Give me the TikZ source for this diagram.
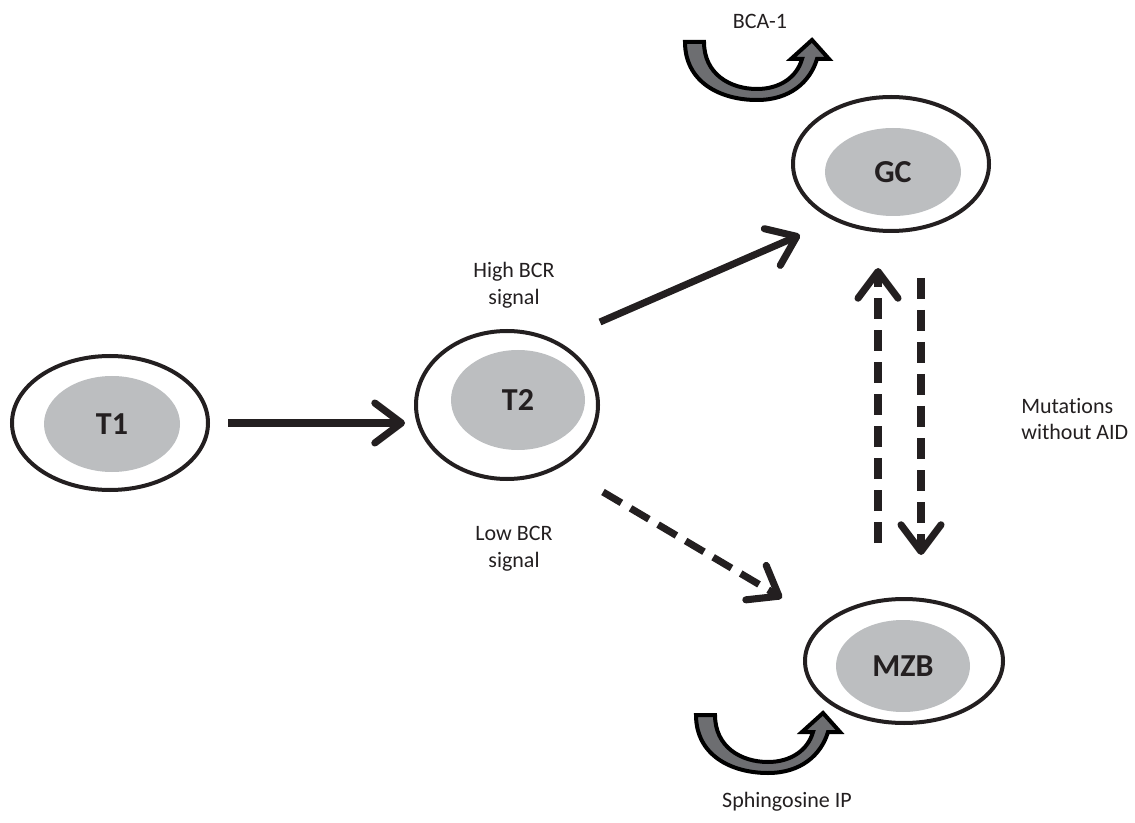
\documentclass[tikz,border=0pt]{standalone}
\usepackage{fontspec}
\setmainfont{Carlito}[Ligatures=NoCommon]
\usetikzlibrary{shapes.geometric,arrows.meta,calc}
\definecolor{inkc}{HTML}{231F20}
\definecolor{cellgrey}{HTML}{BCBEC0}
\definecolor{arrgrey}{HTML}{6D6E71}
\begin{document}
\begin{tikzpicture}[x=0.75pt,y=-0.75pt,
  cellout/.style={ellipse, draw=inkc, line width=3pt, inner sep=0pt},
  cellin/.style={ellipse, fill=cellgrey, inner sep=0pt, text=inkc,
    font=\fontsize{24}{28}\selectfont\bfseries},
  lbl/.style={text=inkc, align=center, inner sep=0pt,
    font=\fontsize{16.5}{20}\selectfont},
  arr/.style={draw=inkc, line width=5.3pt,
    -{Straight Barb[length=20pt,width=30pt,round]}},
  darr/.style={arr, dash pattern=on 16pt off 8pt},
  pics/curvarr/.style={code={
    \draw[draw=black, line width=3pt, fill=arrgrey, line join=miter]
      (0,0) -- (19,0) .. controls (19,32) and (45,47) .. (72,47)
      .. controls (95,47) and (112,35) .. (117,17) -- (106,17)
      -- (127,-2) -- (144,17) -- (132,17)
      .. controls (125,40) and (105,58) .. (72,58)
      .. controls (35,58) and (0,40) .. (0,0) -- cycle;
  }}
]
\useasboundingbox (0,0) rectangle (1135,823);

% cells
\node[cellout, minimum width={196*0.75pt}, minimum height={134*0.75pt}] (T1) at (110,423) {};
\node[cellin, minimum width={136*0.75pt}, minimum height={96*0.75pt}] (T1i) at (112,424) {T1};

\node[cellout, minimum width={182*0.75pt}, minimum height={148*0.75pt}] (T2) at (507,405) {};
\node[cellin, minimum width={134*0.75pt}, minimum height={100*0.75pt}] (T2i) at (518,400) {T2};

\node[cellout, minimum width={196*0.75pt}, minimum height={134*0.75pt}] (GC) at (891,164) {};
\node[cellin, minimum width={136*0.75pt}, minimum height={88*0.75pt}] (GCi) at (893,172) {GC};

\node[cellout, minimum width={198*0.75pt}, minimum height={124*0.75pt}] (MZB) at (904,661) {};
\node[cellin, minimum width={134*0.75pt}, minimum height={92*0.75pt}] (MZBi) at (903,666) {MZB};

% connector end points
\path (T2.center) ++(93,-83) coordinate (hiS);
\path (GC.center) ++(-91,71) coordinate (hiE);
\path (T2.center) ++(96,87) coordinate (loS);
\path (MZB.center) ++(-122,-63) coordinate (loE);

% connectors
\draw[arr] ([xshift=18*0.75pt]T1.east) -- ([xshift=-9*0.75pt]T2.west |- T1.east);
\draw[arr] (hiS) -- (hiE);
\draw[darr] (loS) -- (loE);
\draw[darr] ([xshift=-26*0.75pt,yshift=54*0.75pt]MZB.north) -- ([xshift=-13*0.75pt,yshift=-35*0.75pt]GC.south);
\draw[darr] ([xshift=30*0.75pt,yshift=-45*0.75pt]GC.south) -- ([xshift=17*0.75pt,yshift=42*0.75pt]MZB.north);

% labels
\node[lbl] (hi) at (514,285) {High BCR\\signal};
\node[lbl] (lo) at (514,549) {Low BCR\\signal};
\node[lbl, align=left, anchor=west] (mut) at (1021,419) {Mutat\kern0pt ions\\without AID};
\node[lbl] (bca) at (760,21) {BCA-1};
\node[lbl] (sph) at (787,802) {Sphingosine IP};

% curved block arrows
\pic at (685,42) {curvarr};
\pic at (696,715) {curvarr};
\end{tikzpicture}
\end{document}
